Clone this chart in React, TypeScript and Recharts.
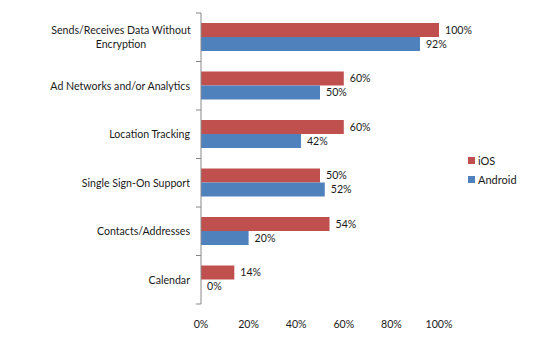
import React from 'react';
import { BarChart, Bar, XAxis, YAxis, LabelList } from 'recharts';

document.body.style.margin = '0';

const categories = [
  'Sends/Receives Data Without\nEncryption',
  'Ad Networks and/or Analytics',
  'Location Tracking',
  'Single Sign-On Support',
  'Contacts/Addresses',
  'Calendar',
];
const iosValues = [100, 60, 60, 50, 54, 14];
const androidValues = [92, 50, 42, 52, 20, 0];
const xTicks = [0, 20, 40, 60, 80, 100];

const RED = '#C0504D';
const BLUE = '#4F81BD';
const FONT = 'Lato, "Open Sans", sans-serif';
const TEXT = '#1a1a1a';
const FS = 10.6;

const PLOT_TOP = 13;
const PLOT_BOTTOM = 304;
const BAND = (PLOT_BOTTOM - PLOT_TOP) / categories.length;
const TICK_OFFSET = 11; // tickSize 6 + tickMargin 5

const data = categories.map((name, i) => ({
  name,
  ios: iosValues[i],
  android: androidValues[i],
}));

const CategoryTick = (props: any) => {
  const { x, y, payload, index } = props;
  const lines = String(payload.value).split('\n');
  const axisX = x + TICK_OFFSET;
  return (
    <g>
      <line x1={axisX - 5} x2={axisX} y1={y - BAND / 2} y2={y - BAND / 2} stroke="#888" />
      {index === categories.length - 1 && (
        <line x1={axisX - 5} x2={axisX} y1={y + BAND / 2} y2={y + BAND / 2} stroke="#888" />
      )}
      {lines.length > 1 ? (
        <text x={x - 69} y={y} textAnchor="middle" fontSize={FS} fontFamily={FONT} fill={TEXT}>
          {lines.map((l, i) => (
            <tspan key={i} x={x - 69} dy={i === 0 ? -3 : 14}>
              {l}
            </tspan>
          ))}
        </text>
      ) : (
        <text x={x} y={y} dy={4} textAnchor="end" fontSize={FS} fontFamily={FONT} fill={TEXT}>
          {lines[0]}
        </text>
      )}
    </g>
  );
};

const LegendBox = () => (
  <div style={{ position: 'absolute', left: 468, top: 151, fontFamily: FONT, fontSize: 11, color: TEXT }}>
    {[
      { label: 'iOS', color: RED },
      { label: 'Android', color: BLUE },
    ].map((it) => (
      <div key={it.label} style={{ display: 'flex', alignItems: 'center', height: 19 }}>
        <span style={{ width: 7, height: 7, background: it.color, marginRight: 3, display: 'inline-block' }} />
        {it.label}
      </div>
    ))}
  </div>
);

const labelStyle = { fontSize: FS, fontFamily: FONT, fill: TEXT };

const App: React.FC = () => {
  return (
    <div style={{ position: 'relative', width: 550, height: 352, background: '#fff' }}>
      <BarChart
        width={550}
        height={352}
        data={data}
        layout="vertical"
        margin={{ top: PLOT_TOP, right: 111, bottom: 352 - PLOT_BOTTOM - 30, left: 0 }}
        barGap={0}
      >
        <XAxis
          type="number"
          domain={[0, 100]}
          ticks={xTicks}
          tickFormatter={(v) => `${v}%`}
          axisLine={false}
          tickLine={false}
          tickMargin={10}
          height={30}
          tick={{ fontSize: FS, fontFamily: FONT, fill: TEXT }}
        />
        <YAxis
          type="category"
          dataKey="name"
          width={201}
          axisLine={{ stroke: '#888' }}
          tickLine={false}
          tickMargin={5}
          tick={<CategoryTick />}
          interval={0}
        />
        <Bar dataKey="ios" fill={RED} barSize={14} isAnimationActive={false}>
          <LabelList dataKey="ios" position="right" offset={6} formatter={(v: any) => `${v}%`} style={labelStyle} />
        </Bar>
        <Bar dataKey="android" fill={BLUE} barSize={14} minPointSize={0.01} isAnimationActive={false}>
          <LabelList dataKey="android" position="right" offset={6} formatter={(v: any) => `${v}%`} style={labelStyle} />
        </Bar>
      </BarChart>
      <LegendBox />
    </div>
  );
};

export default App;
